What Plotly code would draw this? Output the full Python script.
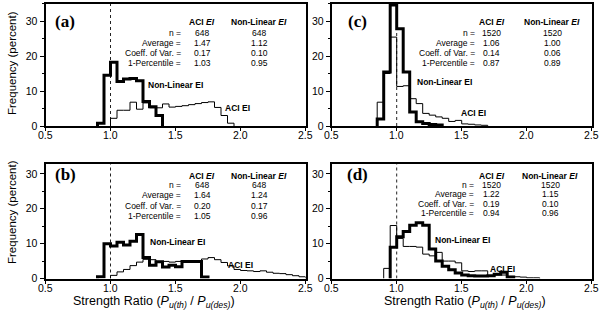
import plotly.graph_objects as go

BIN_W = 0.05

# (a)
a_nl_start = 0.90
a_nl = [0.8, 14.5, 18.2, 12.7, 13.4, 13.6, 12.9, 7.0, 5.5, 3.0]
a_aci_start = 1.00
a_aci = [2.2, 4.5, 4.5, 6.8, 4.8, 6.6, 5.2, 5.2, 6.3, 5.4, 5.6, 5.8, 6.1, 6.4, 6.7, 6.9, 5.3, 3.0, 0.8]

# (b)
b_nl_start = 0.90
b_nl = [0.5, 10.0, 9.3, 10.4, 9.6, 10.7, 12.6, 6.0, 3.8, 4.8, 3.3, 3.8, 3.4, 4.9, 4.9, 4.9, 0.4]
b_aci_start = 1.00
b_aci = [0.9, 1.9, 2.6, 3.7, 4.7, 5.5, 5.4, 4.9, 4.9, 4.7, 4.9, 4.7, 4.8, 5.0,
         5.6, 6.0, 5.4, 4.6, 3.6, 2.6, 2.3, 2.2, 2.0, 2.2, 1.8, 1.5, 1.4, 1.1, 0.8, 0.5]

# (c)
c_nl_start = 0.85
c_nl = [2.0, 15.4, 34.6, 27.8, 15.4, 4.0, 1.2, 0.7, 0.4, 0.3]
c_aci_start = 0.85
c_aci = [6.8, 15.0, 25.4, 11.3, 11.5, 7.8, 6.4, 3.6, 3.1, 2.6, 2.2, 1.3, 1.6, 0.6, 0.5, 0.3, 0.2]

# (d)
d_nl_start = 0.95
d_nl = [9.0, 12.0, 13.5, 15.3, 16.0, 15.3, 8.5, 5.0, 3.5, 2.5, 1.6, 1.0, 0.8, 0.7, 0.7, 0.8, 1.2, 1.8, 0.4]
d_aci_start = 0.90
d_aci = [2.9, 15.2, 11.5, 9.2, 9.2, 9.0, 7.0, 6.5, 7.5, 5.0, 5.0, 4.5, 2.2, 2.0, 2.2, 2.2,
         0.8, 1.0, 1.0, 0.6, 0.5, 0.4, 0.2, 0.2]

x_ticks = [0.5, 1.0, 1.5, 2.0, 2.5]
x_tick_labels = ["0.5", "1.0", "1.5", "2.0", "2.5"]

row_labels = ["n =", "Average =", "Coeff. of Var. =", "1-Percentile ="]
stats = {
    "a": (["648", "1.47", "0.17", "1.03"], ["648", "1.12", "0.10", "0.95"]),
    "b": (["648", "1.64", "0.20", "1.05"], ["648", "1.24", "0.17", "0.96"]),
    "c": (["1520", "1.06", "0.14", "0.87"], ["1520", "1.00", "0.06", "0.89"]),
    "d": (["1520", "1.22", "0.19", "0.94"], ["1520", "1.15", "0.10", "0.96"]),
}

W, H = 600, 316

def fx(px):
    return px / W

def fy(py):
    return (H - py) / H

panels = {
    "a": dict(x0=45.5, x1=305.5, y0=126, y1=3.5, ymax=35, ax="", tab=dict(lab=183, c1=202, c2=259, hy=22, ry=[32.5, 42.5, 52.5, 62.5]),
              nl_lab=(175, 85), aci_lab=(237, 108), plab=(65, 21)),
    "b": dict(x0=45.5, x1=305.5, y0=278.5, y1=163.5, ymax=33, ax="2", tab=dict(lab=183, c1=202, c2=259, hy=176, ry=[185, 195, 205.5, 215.5]),
              nl_lab=(177, 242), aci_lab=(240, 264.5), plab=(65, 174)),
    "c": dict(x0=331.7, x1=591.7, y0=126, y1=3.5, ymax=35, ax="3", tab=dict(lab=477, c1=492, c2=552, hy=22, ry=[32.5, 42.5, 52.5, 62.5]),
              nl_lab=(444, 82), aci_lab=(473, 113), plab=(357, 21)),
    "d": dict(x0=331.7, x1=591.7, y0=278.5, y1=163.5, ymax=33, ax="4", tab=dict(lab=476, c1=492, c2=550, hy=176, ry=[184.5, 194, 203.5, 213]),
              nl_lab=(463, 240), aci_lab=(502, 268.5), plab=(357, 174)),
}

series = {
    "a": (a_aci_start, a_aci, a_nl_start, a_nl),
    "b": (b_aci_start, b_aci, b_nl_start, b_nl),
    "c": (c_aci_start, c_aci, c_nl_start, c_nl),
    "d": (d_aci_start, d_aci, d_nl_start, d_nl),
}

def step_xy(start, vals):
    lefts = [round(start + i * BIN_W, 4) for i in range(len(vals))]
    right = round(start + len(vals) * BIN_W, 4)
    xs = [lefts[0]] + lefts + [right]
    ys = [0] + list(vals) + [0]
    return xs, ys

fig = go.Figure()
annotations = []
shapes = []
FONT = "Liberation Sans, Arial, sans-serif"
TS = 8.5

def ann(x, y, text, xanchor="center", size=TS, family=FONT, xref="paper", **kw):
    annotations.append(dict(x=x, y=y, xref=xref, yref="paper", text=text, showarrow=False,
                            xanchor=xanchor, yanchor="middle", font=dict(family=family, size=size, color="black"), **kw))

for key, p in panels.items():
    ax = p["ax"]
    xa = "x" + ax
    ya = "y" + ax
    aci_start, aci, nl_start, nl = series[key]
    xs, ys = step_xy(aci_start, aci)
    fig.add_trace(go.Scatter(x=xs, y=ys, mode="lines", line=dict(color="black", width=1, shape="hv"),
                             xaxis=xa, yaxis=ya, showlegend=False, hoverinfo="skip", cliponaxis=True))
    xs, ys = step_xy(nl_start, nl)
    fig.add_trace(go.Scatter(x=xs, y=ys, mode="lines", line=dict(color="black", width=3, shape="hv"),
                             xaxis=xa, yaxis=ya, showlegend=False, hoverinfo="skip", cliponaxis=True))
    shapes.append(dict(type="line", xref=xa, yref=ya, x0=1.0, x1=1.0, y0=0, y1=p["ymax"],
                       line=dict(color="#222", width=1, dash="dot"), layer="below"))
    xk = "xaxis" + ax
    yk = "yaxis" + ax
    fig.layout[xk] = dict(domain=[fx(p["x0"]), fx(p["x1"])], range=[0.5, 2.5], automargin=False,
                          tickvals=x_ticks, showticklabels=False,
                          showline=True, mirror=True, linewidth=2, linecolor="black",
                          ticks="outside", ticklen=3, tickwidth=1, tickcolor="black", showgrid=False,
                          zeroline=False, anchor=ya)
    fig.layout[yk] = dict(domain=[fy(p["y0"]), fy(p["y1"])], range=[0, p["ymax"]], dtick=10, tick0=0,
                          automargin=False,
                          showline=True, mirror=True, linewidth=2, linecolor="black",
                          ticks="outside", ticklen=4, tickwidth=1, tickcolor="black", showgrid=False,
                          zeroline=False, anchor=xa, tickfont=dict(family=FONT, size=10.5, color="black"),
                          minor=dict(dtick=5, ticks="outside", ticklen=2, tickcolor="black", showgrid=False))
    for v, lab in zip(x_ticks, x_tick_labels):
        ann(v, fy(p["y0"] + 9.5), lab, size=10.5, xref=xa)
    t = p["tab"]
    aci_vals, nl_vals = stats[key]
    ann(fx(t["c1"]), fy(t["hy"]), "<b>ACI <i>EI</i></b>")
    ann(fx(t["c2"]), fy(t["hy"]), "<b>Non-Linear <i>EI</i></b>")
    for i, lab in enumerate(row_labels):
        ann(fx(t["lab"]), fy(t["ry"][i]), lab, xanchor="right")
        ann(fx(t["c1"]), fy(t["ry"][i]), aci_vals[i])
        ann(fx(t["c2"]), fy(t["ry"][i]), nl_vals[i])
    ann(fx(p["nl_lab"][0]), fy(p["nl_lab"][1]), "<b>Non-Linear EI</b>")
    ann(fx(p["aci_lab"][0]), fy(p["aci_lab"][1]), "<b>ACI EI</b>")
    ann(fx(p["plab"][0]), fy(p["plab"][1]), "<b>(" + key + ")</b>", size=17,
        family="Liberation Serif, Times New Roman, serif")

for cy in (63, 212):
    ann(fx(12), fy(cy), "Frequency (percent)", size=11.5, textangle=-90)
for cx in (154, 465):
    ann(fx(cx), fy(302),
        "Strength Ratio (<i>P</i><sub><i>u(th)</i></sub> / <i>P</i><sub><i>u(des)</i></sub>)", size=12.5)

fig.update_layout(width=W, height=H, margin=dict(l=0, r=0, t=0, b=0, autoexpand=False), paper_bgcolor="white",
                  plot_bgcolor="white", annotations=annotations, shapes=shapes, showlegend=False,
                  font=dict(family=FONT, color="black"))
fig.write_html("out.html", config={"displayModeBar": False},
               post_script="document.body.style.margin='0';document.body.style.padding='0';document.body.style.overflow='hidden';")
